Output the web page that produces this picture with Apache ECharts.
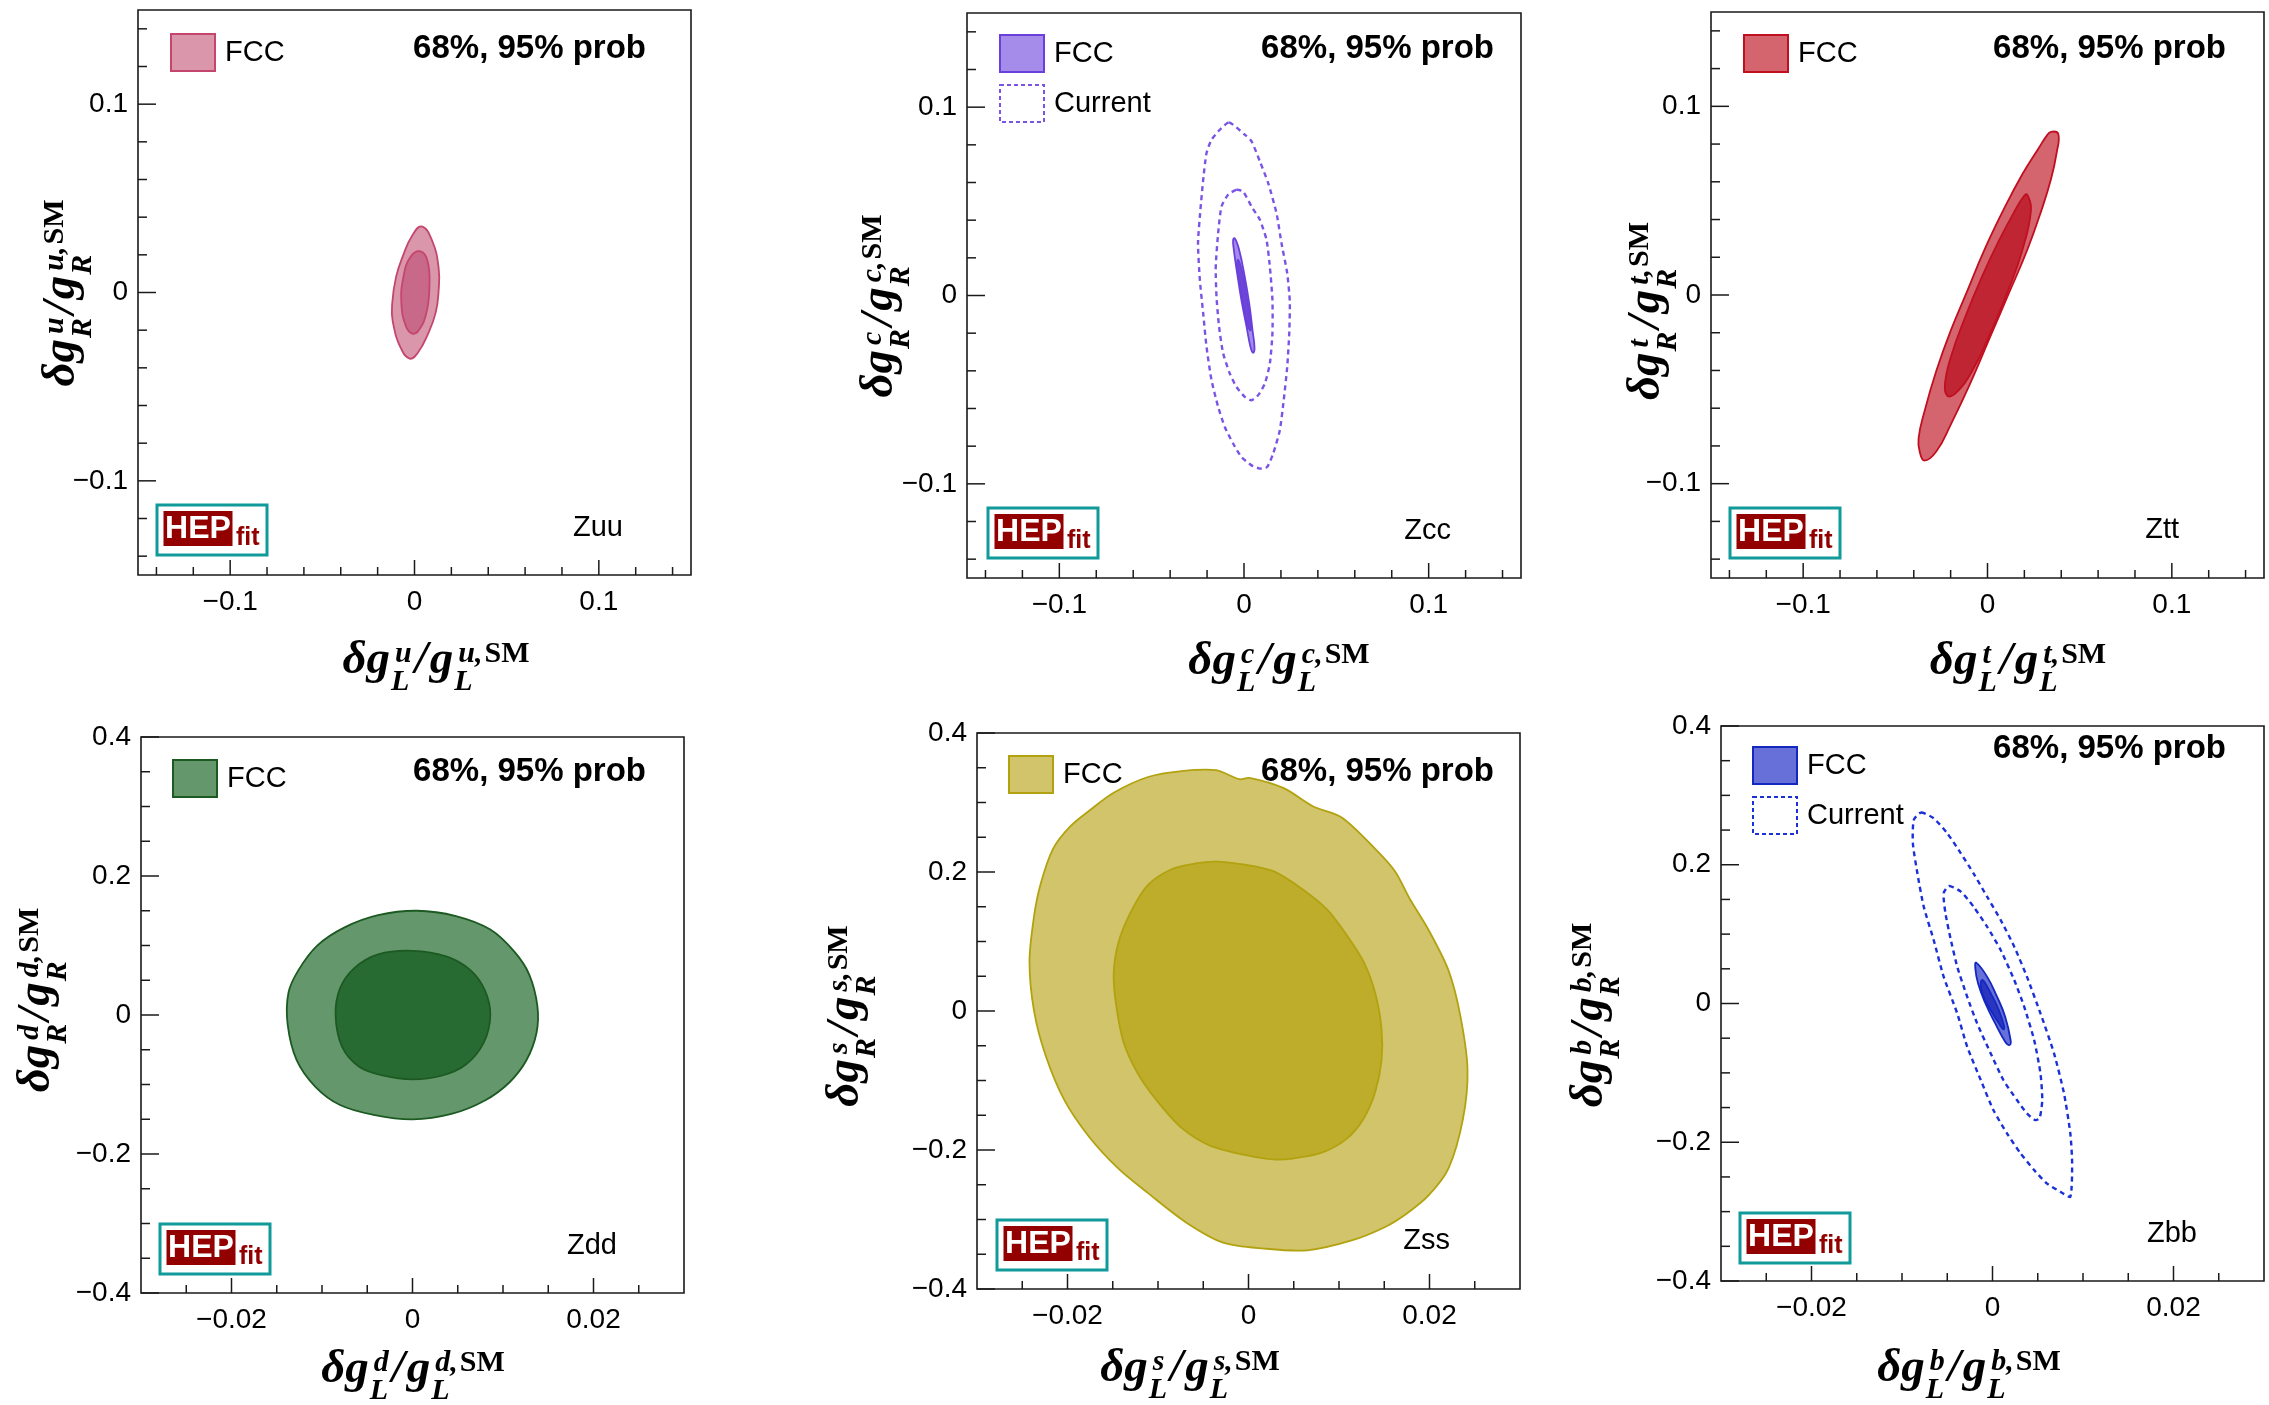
<!DOCTYPE html>
<html>
<head>
<meta charset="utf-8">
<title>Z couplings: FCC vs current, 68% and 95% probability regions</title>
<script src="https://cdn.jsdelivr.net/npm/echarts@6/dist/echarts.min.js"></script>
<style>
  html, body { margin: 0; padding: 0; background: #fff; }
  #chart { width: 2269px; height: 1405px; }
</style>
</head>
<body>
<div id="chart"></div>
<script>
// ---------- tick values and labels ----------
const wideMajor = [-0.1, 0, 0.1];
const wideMinor = [-0.14, -0.12, -0.08, -0.06, -0.04, -0.02, 0.02, 0.04, 0.06, 0.08, 0.12, 0.14];
const wideLabels = ['\u22120.1', '0', '0.1'];

const narrowXMajor = [-0.02, 0, 0.02];
const narrowXMinor = [-0.025, -0.015, -0.01, -0.005, 0.005, 0.01, 0.015, 0.025];
const narrowXLabels = ['\u22120.02', '0', '0.02'];

const narrowYMajor = [-0.4, -0.2, 0, 0.2, 0.4];
const narrowYMinor = [-0.35, -0.3, -0.25, -0.15, -0.1, -0.05, 0.05, 0.1, 0.15, 0.25, 0.3, 0.35];
const narrowYLabels = ['\u22120.4', '\u22120.2', '0', '0.2', '0.4'];

// ---------- probability contours, points are [dgL/gL_SM, dgR/gR_SM] ----------
const zuuFcc95 = [[0.0039,0.0351],[0.0097,0.0272],[0.0131,0.0130],[0.0131,0.0012],[0.0115,-0.0107],[0.0071,-0.0225],[0.0018,-0.0320],[-0.0026,-0.0351],[-0.0074,-0.0296],[-0.0118,-0.0154],[-0.0121,-0.0059],[-0.0100,0.0083],[-0.0060,0.0201],[-0.0016,0.0296]];
const zuuFcc68 = [[0.0034,0.0218],[0.0071,0.0166],[0.0081,0.0036],[0.0065,-0.0107],[0.0023,-0.0201],[-0.0013,-0.0218],[-0.0047,-0.0178],[-0.0071,-0.0059],[-0.0060,0.0083],[-0.0021,0.0190]];

const zccFcc95 = [[-0.0050,0.0304],[-0.0026,0.0242],[0.0004,0.0100],[0.0028,-0.0041],[0.0046,-0.0184],[0.0057,-0.0281],[0.0049,-0.0304],[0.0035,-0.0272],[0.0014,-0.0166],[-0.0014,-0.0024],[-0.0037,0.0118],[-0.0055,0.0242],[-0.0059,0.0295]];
const zccFcc68 = [[-0.0032,0.0189],[-0.0008,0.0118],[0.0014,-0.0006],[0.0031,-0.0113],[0.0037,-0.0184],[0.0022,-0.0166],[-0.0001,-0.0060],[-0.0023,0.0065],[-0.0037,0.0153]];
const zccNow95 = [[-0.0081,0.0919],[0.0004,0.0854],[0.0041,0.0818],[0.0086,0.0712],[0.0131,0.0597],[0.0176,0.0437],[0.0203,0.0278],[0.0234,0.0118],[0.0248,-0.0033],[0.0245,-0.0201],[0.0234,-0.0379],[0.0215,-0.0556],[0.0194,-0.0715],[0.0158,-0.0839],[0.0125,-0.0911],[0.0086,-0.0919],[0.0041,-0.0902],[-0.0014,-0.0857],[-0.0059,-0.0786],[-0.0104,-0.0698],[-0.0140,-0.0591],[-0.0176,-0.0449],[-0.0203,-0.0272],[-0.0221,-0.0095],[-0.0239,0.0082],[-0.0249,0.0278],[-0.0236,0.0455],[-0.0221,0.0614],[-0.0203,0.0756],[-0.0176,0.0827],[-0.0131,0.0880]];
const zccNow68 = [[-0.0041,0.0561],[-0.0005,0.0552],[0.0041,0.0472],[0.0086,0.0402],[0.0122,0.0295],[0.0140,0.0153],[0.0154,-0.0024],[0.0154,-0.0201],[0.0140,-0.0361],[0.0113,-0.0467],[0.0077,-0.0529],[0.0041,-0.0556],[0.0004,-0.0538],[-0.0041,-0.0485],[-0.0077,-0.0414],[-0.0113,-0.0307],[-0.0135,-0.0166],[-0.0149,-0.0006],[-0.0153,0.0153],[-0.0140,0.0331],[-0.0122,0.0472],[-0.0086,0.0535]];

const zttFcc95 = [[0.0345,0.0865],[0.0384,0.0853],[0.0376,0.0758],[0.0345,0.0616],[0.0293,0.0450],[0.0215,0.0237],[0.0112,0.0000],[0.0008,-0.0237],[-0.0096,-0.0474],[-0.0200,-0.0688],[-0.0278,-0.0830],[-0.0342,-0.0878],[-0.0368,-0.0830],[-0.0374,-0.0759],[-0.0342,-0.0617],[-0.0278,-0.0403],[-0.0200,-0.0190],[-0.0109,0.0023],[-0.0018,0.0237],[0.0086,0.0450],[0.0189,0.0640],[0.0280,0.0782],[0.0319,0.0841]];
const zttFcc68 = [[0.0215,0.0533],[0.0236,0.0450],[0.0189,0.0237],[0.0112,0.0023],[0.0021,-0.0190],[-0.0083,-0.0403],[-0.0174,-0.0522],[-0.0218,-0.0534],[-0.0231,-0.0474],[-0.0200,-0.0332],[-0.0122,-0.0119],[-0.0031,0.0095],[0.0060,0.0284],[0.0150,0.0450],[0.0195,0.0521]];

const zddFcc95 = [[0.0005,0.1500],[0.0048,0.1423],[0.0086,0.1229],[0.0113,0.0905],[0.0129,0.0582],[0.0138,0.0129],[0.0137,-0.0259],[0.0126,-0.0648],[0.0107,-0.0971],[0.0080,-0.1230],[0.0043,-0.1424],[0.0000,-0.1502],[-0.0043,-0.1437],[-0.0080,-0.1295],[-0.0107,-0.1036],[-0.0128,-0.0648],[-0.0138,-0.0130],[-0.0137,0.0323],[-0.0126,0.0646],[-0.0105,0.1002],[-0.0075,0.1261],[-0.0038,0.1436]];
const zddFcc68 = [[0.0000,0.0924],[0.0038,0.0840],[0.0064,0.0646],[0.0080,0.0355],[0.0086,-0.0001],[0.0079,-0.0389],[0.0059,-0.0712],[0.0032,-0.0874],[0.0000,-0.0926],[-0.0032,-0.0874],[-0.0059,-0.0745],[-0.0078,-0.0453],[-0.0085,-0.0001],[-0.0080,0.0387],[-0.0064,0.0679],[-0.0038,0.0873]];

const zssFcc95 = [[-0.0149,0.3141],[-0.0111,0.3367],[-0.0074,0.3452],[-0.0036,0.3465],[-0.0010,0.3335],[0.0001,0.3354],[0.0039,0.3206],[0.0071,0.2947],[0.0103,0.2785],[0.0140,0.2332],[0.0162,0.2008],[0.0178,0.1619],[0.0199,0.1166],[0.0221,0.0584],[0.0234,-0.0064],[0.0242,-0.0841],[0.0237,-0.1553],[0.0221,-0.2265],[0.0199,-0.2654],[0.0175,-0.2913],[0.0151,-0.3107],[0.0114,-0.3301],[0.0065,-0.3443],[0.0017,-0.3418],[-0.0028,-0.3333],[-0.0069,-0.3042],[-0.0111,-0.2621],[-0.0144,-0.2265],[-0.0176,-0.1812],[-0.0203,-0.1294],[-0.0224,-0.0647],[-0.0237,0.0001],[-0.0242,0.0713],[-0.0237,0.1360],[-0.0230,0.1814],[-0.0216,0.2332],[-0.0197,0.2655],[-0.0176,0.2882]];
const zssFcc68 = [[-0.0036,0.2150],[-0.0004,0.2105],[0.0028,0.2008],[0.0060,0.1749],[0.0087,0.1458],[0.0108,0.1101],[0.0127,0.0713],[0.0140,0.0260],[0.0147,-0.0258],[0.0147,-0.0711],[0.0140,-0.1165],[0.0127,-0.1553],[0.0108,-0.1844],[0.0081,-0.2039],[0.0049,-0.2123],[0.0028,-0.2136],[-0.0004,-0.2071],[-0.0042,-0.1941],[-0.0074,-0.1682],[-0.0101,-0.1294],[-0.0122,-0.0906],[-0.0138,-0.0452],[-0.0146,0.0066],[-0.0149,0.0519],[-0.0144,0.0972],[-0.0130,0.1425],[-0.0111,0.1814],[-0.0085,0.2040],[-0.0058,0.2124]];

const zbbFcc95 = [[-0.0018,0.0589],[-0.0006,0.0387],[0.0005,0.0098],[0.0014,-0.0190],[0.0020,-0.0526],[0.0019,-0.0598],[0.0014,-0.0550],[0.0003,-0.0286],[-0.0008,0.0007],[-0.0016,0.0291],[-0.0019,0.0507]];
const zbbFcc68 = [[-0.0011,0.0339],[-0.0002,0.0147],[0.0007,-0.0094],[0.0013,-0.0334],[0.0012,-0.0372],[0.0007,-0.0286],[-0.0002,-0.0094],[-0.0010,0.0098],[-0.0013,0.0267]];
const zbbNow95 = [[-0.0079,0.2752],[-0.0065,0.2670],[-0.0050,0.2454],[-0.0035,0.2165],[-0.0021,0.1877],[-0.0006,0.1540],[0.0009,0.1204],[0.0024,0.0819],[0.0038,0.0387],[0.0053,-0.0142],[0.0068,-0.0719],[0.0079,-0.1295],[0.0086,-0.1872],[0.0088,-0.2305],[0.0086,-0.2785],[0.0075,-0.2713],[0.0060,-0.2593],[0.0046,-0.2401],[0.0031,-0.2161],[0.0016,-0.1872],[0.0001,-0.1536],[-0.0013,-0.1103],[-0.0028,-0.0622],[-0.0039,-0.0142],[-0.0054,0.0387],[-0.0065,0.0916],[-0.0076,0.1396],[-0.0083,0.1877],[-0.0088,0.2310],[-0.0087,0.2646]];
const zbbNow68 = [[-0.0048,0.1694],[-0.0035,0.1613],[-0.0021,0.1396],[-0.0006,0.1108],[0.0009,0.0771],[0.0024,0.0339],[0.0035,-0.0046],[0.0046,-0.0526],[0.0053,-0.1007],[0.0055,-0.1392],[0.0052,-0.1656],[0.0047,-0.1680],[0.0038,-0.1584],[0.0027,-0.1392],[0.0012,-0.1103],[-0.0002,-0.0719],[-0.0017,-0.0286],[-0.0028,0.0098],[-0.0039,0.0531],[-0.0046,0.0916],[-0.0052,0.1300],[-0.0054,0.1589]];

// ---------- fonts ----------
const SANS = '"Liberation Sans", Arial, Helvetica, sans-serif';
const SERIF = '"Liberation Serif", "Times New Roman", serif';

// ---------- panel layout and styling ----------
const wideX = { range: [-0.15, 0.15], major: wideMajor, minor: wideMinor, labels: wideLabels };
const wideY = { range: [-0.15, 0.15], major: wideMajor, minor: wideMinor, labels: wideLabels };
const narrowX = { range: [-0.03, 0.03], major: narrowXMajor, minor: narrowXMinor, labels: narrowXLabels };
const narrowY = { range: [-0.4, 0.4], major: narrowYMajor, minor: narrowYMinor, labels: narrowYLabels };

const panels = [
  { tag: 'Zuu', q: 'u', box: [138, 10, 553, 565], ax: wideX, ay: wideY,
    fill95: '#da96aa', fill68: '#c8698a', edge: '#c4456e', dash: null,
    fcc: [zuuFcc95, zuuFcc68], now: null, smooth: 0.45,
    legendAt: [171, 34], probAt: [646, 60], tagAt: [623, 538], logoAt: [157, 505],
    xTitleAt: [436, 677], yTitleAt: [78, 293] },
  { tag: 'Zcc', q: 'c', box: [967, 13, 554, 565], ax: wideX, ay: wideY,
    fill95: '#a58ceb', fill68: '#6e46d7', edge: '#6a40dc', dash: '#7a55e5',
    fcc: [zccFcc95, zccFcc68], now: [zccNow95, zccNow68], smooth: 0.45,
    legendAt: [1000, 35], probAt: [1494, 60], tagAt: [1451, 541], logoAt: [988, 508],
    xTitleAt: [1279, 678], yTitleAt: [896, 306] },
  { tag: 'Ztt', q: 't', box: [1711, 12, 553, 566], ax: wideX, ay: wideY,
    fill95: '#d4656e', fill68: '#bf2532', edge: '#c01020', dash: null,
    fcc: [zttFcc95, zttFcc68], now: null, smooth: 0.45,
    legendAt: [1744, 35], probAt: [2226, 60], tagAt: [2179, 540], logoAt: [1730, 508],
    xTitleAt: [2018, 678], yTitleAt: [1663, 311] },
  { tag: 'Zdd', q: 'd', box: [141, 737, 543, 556], ax: narrowX, ay: narrowY,
    fill95: '#64986c', fill68: '#276b33', edge: '#1c5a22', dash: null,
    fcc: [zddFcc95, zddFcc68], now: null, smooth: 0.35,
    legendAt: [173, 760], probAt: [646, 783], tagAt: [617, 1256], logoAt: [160, 1224],
    xTitleAt: [413, 1386], yTitleAt: [53, 1000] },
  { tag: 'Zss', q: 's', box: [977, 733, 543, 556], ax: narrowX, ay: narrowY,
    fill95: '#d1c46a', fill68: '#bdad2a', edge: '#b2a210', dash: null,
    fcc: [zssFcc95, zssFcc68], now: null, smooth: 0.3,
    legendAt: [1009, 756], probAt: [1494, 783], tagAt: [1450, 1251], logoAt: [997, 1220],
    xTitleAt: [1190, 1385], yTitleAt: [862, 1016] },
  { tag: 'Zbb', q: 'b', box: [1721, 726, 543, 555], ax: narrowX, ay: narrowY,
    fill95: '#6670d8', fill68: '#2a36c0', edge: '#1428c0', dash: '#1a30d8',
    fcc: [zbbFcc95, zbbFcc68], now: [zbbNow95, zbbNow68], smooth: 0.45,
    legendAt: [1753, 747], probAt: [2226, 760], tagAt: [2197, 1244], logoAt: [1740, 1213],
    xTitleAt: [1969, 1385], yTitleAt: [1606, 1015] }
];

// ---------- series builders ----------
function contourSeries(i, pts, style, smooth) {
  return {
    type: 'custom', xAxisIndex: i, yAxisIndex: i, data: pts,
    silent: true, clip: true, animation: false, z: 3,
    renderItem(params, api) {
      if (params.dataIndex !== 0) return null;
      return { type: 'polygon', shape: { points: pts.map(p => api.coord(p)), smooth: smooth }, style: style };
    }
  };
}

// ticks pointing into the frame, plus tick labels, placed through the axis scales
function axisDecorSeries(i, p) {
  const ink = '#1a1a1a';
  const labelFont = `28px ${SANS}`;
  return {
    type: 'custom', xAxisIndex: i, yAxisIndex: i, data: [[p.ax.range[0], p.ay.range[0]]],
    silent: true, clip: false, animation: false, z: 6,
    renderItem(params, api) {
      const kids = [];
      const xLo = p.ax.range[0], yLo = p.ay.range[0];
      const tick = (a, dx, dy) => kids.push({ type: 'line',
        shape: { x1: a[0], y1: a[1], x2: a[0] + dx, y2: a[1] + dy },
        style: { stroke: ink, lineWidth: 1.5 } });
      p.ax.major.forEach((v, k) => {
        const a = api.coord([v, yLo]);
        tick(a, 0, -15);
        kids.push({ type: 'text', x: a[0], y: a[1] + 27,
          style: { text: p.ax.labels[k], font: labelFont, fill: '#000', align: 'center', verticalAlign: 'middle' } });
      });
      p.ax.minor.forEach(v => tick(api.coord([v, yLo]), 0, -8));
      p.ay.major.forEach((v, k) => {
        const a = api.coord([xLo, v]);
        tick(a, 18, 0);
        kids.push({ type: 'text', x: a[0] - 10, y: a[1],
          style: { text: p.ay.labels[k], font: labelFont, fill: '#000', align: 'right', verticalAlign: 'middle' } });
      });
      p.ay.minor.forEach(v => tick(api.coord([xLo, v]), 9, 0));
      return { type: 'group', children: kids };
    }
  };
}

// ---------- axis titles: δg_{L,R}^{q} / g_{L,R}^{q,SM} ----------
const measureCtx = document.createElement('canvas').getContext('2d');
function textWidth(str, font) { measureCtx.font = font; return measureCtx.measureText(str).width; }

function couplingTitle(q, chir, ax, ay, vertical) {
  const M = 47, S = 30;
  const fMain = `italic bold ${M}px ${SERIF}`;
  const fSmall = `italic bold ${S}px ${SERIF}`;
  const fSmallUp = `bold ${S}px ${SERIF}`;
  const supDy = -13, subDy = 15;
  const parts = [];
  const put = (text, font, size, x, dy) => {
    parts.push({ text, font, x, y: dy - 0.34 * size });
    return textWidth(text, font);
  };
  let x = 0;
  x += put('\u03b4g', fMain, M, x, 0);
  let xs = x;
  const wSub1 = put(chir, fSmall, S, xs + 1, subDy);
  const wSup1 = put(q, fSmall, S, xs + 5, supDy);
  x = xs + Math.max(wSub1 + 1, wSup1 + 5) + 3;
  x += put('/', fMain, M, x, 0) + 2;
  x += put('g', fMain, M, x, 0);
  xs = x;
  const wSub2 = put(chir, fSmall, S, xs + 1, subDy);
  const wSupA = put(q + ',', fSmall, S, xs + 5, supDy);
  const wSupB = put('SM', fSmallUp, S, xs + 7 + wSupA, supDy);
  x = xs + Math.max(wSub2 + 1, 7 + wSupA + wSupB);
  const W = x;
  return {
    type: 'group', x: ax, y: ay, rotation: vertical ? Math.PI / 2 : 0, z: 100, silent: true,
    children: parts.map(t => ({ type: 'text', x: t.x - W / 2, y: t.y,
      style: { text: t.text, font: t.font, fill: '#000', align: 'left', verticalAlign: 'middle' } }))
  };
}

// ---------- in-frame decorations ----------
function legendGroup(p) {
  const [lx, ly] = p.legendAt;
  const kids = [
    { type: 'rect', shape: { x: 0, y: 0, width: 44, height: 37 },
      style: { fill: p.fill95, stroke: p.edge, lineWidth: 2 } },
    { type: 'text', x: 54, y: 19,
      style: { text: 'FCC', font: `29px ${SANS}`, fill: '#000', align: 'left', verticalAlign: 'middle' } }
  ];
  if (p.now) {
    kids.push({ type: 'rect', shape: { x: 0, y: 50, width: 44, height: 37 },
      style: { fill: 'none', stroke: p.dash, lineWidth: 2, lineDash: [4, 3] } });
    kids.push({ type: 'text', x: 54, y: 69,
      style: { text: 'Current', font: `29px ${SANS}`, fill: '#000', align: 'left', verticalAlign: 'middle' } });
  }
  return { type: 'group', x: lx, y: ly, z: 100, silent: true, children: kids };
}

function logoGroup(p) {
  const [gx, gy] = p.logoAt;
  return { type: 'group', x: gx, y: gy, z: 100, silent: true, children: [
    { type: 'rect', shape: { x: 0, y: 0, width: 110, height: 50 },
      style: { fill: '#ffffff', stroke: '#119a9a', lineWidth: 3 } },
    { type: 'rect', shape: { x: 6.5, y: 6, width: 69, height: 35 }, style: { fill: '#930000' } },
    { type: 'text', x: 41, y: 24,
      style: { text: 'HEP', font: `bold 32px ${SANS}`, fill: '#ffffff', align: 'center', verticalAlign: 'middle' } },
    { type: 'text', x: 79, y: 42 - 0.35 * 25,
      style: { text: 'fit', font: `bold 25px ${SANS}`, fill: '#930000', align: 'left', verticalAlign: 'middle' } }
  ] };
}

function labelText(text, at, font, size) {
  return { type: 'text', x: at[0], y: at[1] - 0.35 * size, z: 100, silent: true,
    style: { text, font, fill: '#000', align: 'right', verticalAlign: 'middle' } };
}

// ---------- assemble ----------
const grid = [], xAxis = [], yAxis = [], series = [], graphics = [];
panels.forEach((p, i) => {
  grid.push({ left: p.box[0], top: p.box[1], width: p.box[2], height: p.box[3],
    show: true, borderColor: '#1a1a1a', borderWidth: 1.6, backgroundColor: 'transparent' });
  xAxis.push({ type: 'value', gridIndex: i, min: p.ax.range[0], max: p.ax.range[1], show: false });
  yAxis.push({ type: 'value', gridIndex: i, min: p.ay.range[0], max: p.ay.range[1], show: false });

  series.push(contourSeries(i, p.fcc[0], { fill: p.fill95, stroke: p.edge, lineWidth: 1.8, lineJoin: 'round' }, p.smooth));
  series.push(contourSeries(i, p.fcc[1], { fill: p.fill68, stroke: p.edge, lineWidth: 1.8, lineJoin: 'round' }, p.smooth));
  if (p.now) {
    p.now.forEach(c => series.push(contourSeries(i, c,
      { fill: 'none', stroke: p.dash, lineWidth: 2.4, lineDash: [5, 4] }, 0.2)));
  }
  series.push(axisDecorSeries(i, p));

  graphics.push(legendGroup(p));
  graphics.push(logoGroup(p));
  graphics.push(labelText('68%, 95% prob', p.probAt, `bold 33px ${SANS}`, 33));
  graphics.push(labelText(p.tag, p.tagAt, `29px ${SANS}`, 29));
  graphics.push(couplingTitle(p.q, 'L', p.xTitleAt[0], p.xTitleAt[1], false));
  graphics.push(couplingTitle(p.q, 'R', p.yTitleAt[0], p.yTitleAt[1], true));
});

const chart = echarts.init(document.getElementById('chart'), null, { renderer: 'canvas' });
chart.setOption({
  backgroundColor: '#ffffff',
  animation: false,
  grid, xAxis, yAxis, series,
  graphic: { elements: graphics }
});
</script>
</body>
</html>
